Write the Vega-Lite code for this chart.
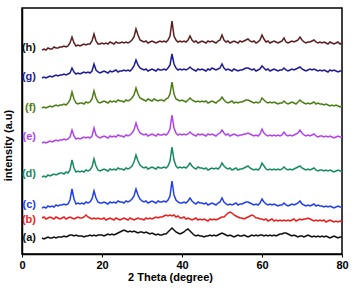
{
  "$schema": "https://vega.github.io/schema/vega-lite/v6.json",
  "width": 320,
  "height": 246,
  "autosize": "none",
  "padding": {"left": 22, "top": 8, "right": 12, "bottom": 34},
  "background": "white",
  "config": {
    "view": {"stroke": "black", "strokeWidth": 1.5},
    "font": "Liberation Sans"
  },
  "datasets": {
    "labels": [
      {"s":"a","t":"(a)","ly":16},
      {"s":"b","t":"(b)","ly":34},
      {"s":"c","t":"(c)","ly":49},
      {"s":"d","t":"(d)","ly":80},
      {"s":"e","t":"(e)","ly":117},
      {"s":"f","t":"(f)","ly":146},
      {"s":"g","t":"(g)","ly":177},
      {"s":"h","t":"(h)","ly":206}
    ],
    "xrd": [
      {"x":5,"a":16,"b":36,"c":46,"d":77,"e":111,"f":146,"g":176,"h":204},
      {"x":5.5,"a":15,"b":37,"c":47,"d":78,"e":112,"f":147,"g":177,"h":205},
      {"x":6,"a":16,"b":35,"c":46,"d":77,"e":111,"f":146,"g":176,"h":204},
      {"x":6.5,"a":17,"b":36,"c":48,"d":79,"e":112,"f":147,"g":177,"h":206},
      {"x":7,"a":16,"b":37,"c":47,"d":78,"e":113,"f":148,"g":178,"h":205},
      {"x":7.5,"a":16,"b":36,"c":48,"d":79,"e":112,"f":147,"g":177,"h":205},
      {"x":8,"a":17,"b":35,"c":47,"d":80,"e":113,"f":148,"g":178,"h":207},
      {"x":8.5,"a":16,"b":37,"c":49,"d":79,"e":114,"f":149,"g":179,"h":206},
      {"x":9,"a":17,"b":36,"c":48,"d":80,"e":113,"f":148,"g":178,"h":206},
      {"x":9.5,"a":17,"b":35,"c":49,"d":81,"e":114,"f":149,"g":179,"h":207},
      {"x":10,"a":17,"b":36,"c":49,"d":81,"e":114,"f":149,"g":179,"h":207},
      {"x":10.5,"a":18,"b":37,"c":50,"d":80,"e":115,"f":150,"g":180,"h":208},
      {"x":11,"a":17,"b":35,"c":49,"d":82,"e":114,"f":149,"g":179,"h":207},
      {"x":11.5,"a":18,"b":36,"c":50,"d":81,"e":115,"f":151,"g":180,"h":208},
      {"x":12,"a":19,"b":37,"c":54,"d":84,"e":117,"f":154,"g":181,"h":211},
      {"x":12.5,"a":19,"b":36,"c":65,"d":94,"e":124,"f":162,"g":186,"h":217},
      {"x":13,"a":18,"b":35,"c":55,"d":86,"e":118,"f":155,"g":182,"h":211},
      {"x":13.5,"a":19,"b":36,"c":50,"d":82,"e":115,"f":151,"g":180,"h":208},
      {"x":14,"a":18,"b":37,"c":51,"d":83,"e":116,"f":150,"g":181,"h":209},
      {"x":14.5,"a":18,"b":36,"c":50,"d":82,"e":115,"f":151,"g":180,"h":208},
      {"x":15,"a":18,"b":36,"c":51,"d":83,"e":116,"f":151,"g":181,"h":209},
      {"x":15.5,"a":17,"b":37,"c":50,"d":82,"e":117,"f":150,"g":182,"h":210},
      {"x":16,"a":18,"b":39,"c":52,"d":84,"e":116,"f":152,"g":181,"h":209},
      {"x":16.5,"a":18,"b":37,"c":51,"d":83,"e":117,"f":151,"g":182,"h":210},
      {"x":17,"a":19,"b":36,"c":52,"d":84,"e":116,"f":152,"g":181,"h":210},
      {"x":17.5,"a":18,"b":35,"c":55,"d":87,"e":118,"f":155,"g":183,"h":213},
      {"x":18,"a":19,"b":36,"c":63,"d":95,"e":126,"f":163,"g":190,"h":220},
      {"x":18.5,"a":18,"b":35,"c":56,"d":88,"e":119,"f":156,"g":184,"h":213},
      {"x":19,"a":19,"b":36,"c":52,"d":84,"e":117,"f":152,"g":182,"h":210},
      {"x":19.5,"a":19,"b":35,"c":51,"d":83,"e":116,"f":151,"g":181,"h":210},
      {"x":20,"a":19,"b":35,"c":51,"d":84,"e":117,"f":152,"g":182,"h":211},
      {"x":20.5,"a":18,"b":36,"c":52,"d":85,"e":118,"f":153,"g":183,"h":210},
      {"x":21,"a":19,"b":34,"c":51,"d":84,"e":117,"f":152,"g":182,"h":211},
      {"x":21.5,"a":20,"b":35,"c":50,"d":83,"e":116,"f":151,"g":181,"h":210},
      {"x":22,"a":19,"b":36,"c":52,"d":85,"e":118,"f":153,"g":183,"h":212},
      {"x":22.5,"a":20,"b":35,"c":51,"d":84,"e":117,"f":152,"g":182,"h":211},
      {"x":23,"a":19,"b":34,"c":52,"d":85,"e":118,"f":153,"g":183,"h":210},
      {"x":23.5,"a":20,"b":36,"c":51,"d":84,"e":117,"f":152,"g":184,"h":212},
      {"x":24,"a":21,"b":35,"c":53,"d":86,"e":119,"f":154,"g":182,"h":211},
      {"x":24.5,"a":22,"b":34,"c":52,"d":85,"e":118,"f":153,"g":183,"h":211},
      {"x":25,"a":23,"b":35,"c":52,"d":85,"e":118,"f":153,"g":183,"h":212},
      {"x":25.5,"a":24,"b":36,"c":51,"d":84,"e":117,"f":152,"g":184,"h":211},
      {"x":26,"a":23,"b":35,"c":53,"d":86,"e":119,"f":154,"g":183,"h":212},
      {"x":26.5,"a":22,"b":34,"c":52,"d":85,"e":118,"f":153,"g":184,"h":211},
      {"x":27,"a":23,"b":36,"c":53,"d":86,"e":119,"f":154,"g":183,"h":212},
      {"x":27.5,"a":22,"b":35,"c":55,"d":88,"e":121,"f":156,"g":185,"h":214},
      {"x":28,"a":23,"b":34,"c":58,"d":92,"e":124,"f":159,"g":188,"h":217},
      {"x":28.5,"a":22,"b":35,"c":65,"d":99,"e":131,"f":166,"g":194,"h":225},
      {"x":29,"a":21,"b":36,"c":59,"d":93,"e":125,"f":160,"g":189,"h":219},
      {"x":29.5,"a":22,"b":35,"c":55,"d":89,"e":121,"f":156,"g":186,"h":214},
      {"x":30,"a":22,"b":35,"c":53,"d":87,"e":120,"f":155,"g":185,"h":213},
      {"x":30.5,"a":21,"b":34,"c":52,"d":86,"e":119,"f":154,"g":184,"h":212},
      {"x":31,"a":22,"b":36,"c":53,"d":87,"e":120,"f":153,"g":185,"h":213},
      {"x":31.5,"a":21,"b":35,"c":51,"d":85,"e":118,"f":155,"g":183,"h":211},
      {"x":32,"a":20,"b":36,"c":52,"d":86,"e":119,"f":154,"g":184,"h":212},
      {"x":32.5,"a":21,"b":35,"c":53,"d":87,"e":120,"f":153,"g":185,"h":213},
      {"x":33,"a":20,"b":36,"c":52,"d":86,"e":119,"f":155,"g":184,"h":212},
      {"x":33.5,"a":19,"b":37,"c":51,"d":85,"e":118,"f":154,"g":183,"h":211},
      {"x":34,"a":20,"b":36,"c":53,"d":87,"e":120,"f":153,"g":185,"h":212},
      {"x":34.5,"a":19,"b":37,"c":52,"d":86,"e":119,"f":154,"g":184,"h":213},
      {"x":35,"a":19,"b":37,"c":52,"d":86,"e":119,"f":154,"g":184,"h":212},
      {"x":35.5,"a":20,"b":38,"c":53,"d":87,"e":120,"f":153,"g":185,"h":213},
      {"x":36,"a":20,"b":39,"c":52,"d":86,"e":119,"f":155,"g":184,"h":212},
      {"x":36.5,"a":22,"b":38,"c":54,"d":88,"e":121,"f":156,"g":186,"h":214},
      {"x":37,"a":24,"b":39,"c":58,"d":93,"e":125,"f":160,"g":189,"h":218},
      {"x":37.5,"a":26,"b":38,"c":73,"d":107,"e":139,"f":172,"g":200,"h":233},
      {"x":38,"a":24,"b":39,"c":59,"d":94,"e":126,"f":160,"g":190,"h":218},
      {"x":38.5,"a":22,"b":37,"c":54,"d":88,"e":121,"f":155,"g":186,"h":214},
      {"x":39,"a":21,"b":38,"c":52,"d":86,"e":119,"f":154,"g":184,"h":212},
      {"x":39.5,"a":20,"b":36,"c":51,"d":87,"e":120,"f":153,"g":185,"h":213},
      {"x":40,"a":21,"b":36,"c":51,"d":86,"e":119,"f":154,"g":184,"h":212},
      {"x":40.5,"a":22,"b":37,"c":52,"d":87,"e":120,"f":153,"g":185,"h":213},
      {"x":41,"a":24,"b":35,"c":51,"d":86,"e":119,"f":152,"g":184,"h":212},
      {"x":41.5,"a":25,"b":36,"c":53,"d":88,"e":120,"f":154,"g":185,"h":214},
      {"x":42,"a":23,"b":35,"c":56,"d":91,"e":122,"f":156,"g":187,"h":218},
      {"x":42.5,"a":21,"b":34,"c":53,"d":88,"e":120,"f":154,"g":185,"h":214},
      {"x":43,"a":19,"b":35,"c":51,"d":86,"e":119,"f":153,"g":184,"h":212},
      {"x":43.5,"a":18,"b":36,"c":50,"d":85,"e":118,"f":152,"g":183,"h":213},
      {"x":44,"a":19,"b":34,"c":52,"d":87,"e":120,"f":153,"g":185,"h":211},
      {"x":44.5,"a":18,"b":35,"c":51,"d":86,"e":119,"f":152,"g":184,"h":212},
      {"x":45,"a":18,"b":34,"c":51,"d":86,"e":120,"f":153,"g":185,"h":213},
      {"x":45.5,"a":17,"b":35,"c":50,"d":85,"e":119,"f":152,"g":184,"h":212},
      {"x":46,"a":18,"b":34,"c":51,"d":86,"e":118,"f":153,"g":183,"h":211},
      {"x":46.5,"a":18,"b":33,"c":49,"d":84,"e":120,"f":151,"g":185,"h":213},
      {"x":47,"a":19,"b":35,"c":50,"d":85,"e":119,"f":152,"g":184,"h":212},
      {"x":47.5,"a":18,"b":34,"c":51,"d":86,"e":120,"f":153,"g":186,"h":213},
      {"x":48,"a":19,"b":35,"c":50,"d":85,"e":119,"f":152,"g":185,"h":212},
      {"x":48.5,"a":18,"b":34,"c":49,"d":86,"e":118,"f":151,"g":184,"h":211},
      {"x":49,"a":19,"b":35,"c":51,"d":85,"e":120,"f":153,"g":185,"h":213},
      {"x":49.5,"a":20,"b":36,"c":52,"d":87,"e":121,"f":154,"g":186,"h":214},
      {"x":50,"a":21,"b":37,"c":56,"d":91,"e":124,"f":157,"g":190,"h":219},
      {"x":50.5,"a":20,"b":37,"c":52,"d":88,"e":121,"f":154,"g":186,"h":214},
      {"x":51,"a":19,"b":39,"c":50,"d":86,"e":119,"f":152,"g":184,"h":212},
      {"x":51.5,"a":18,"b":41,"c":49,"d":85,"e":120,"f":151,"g":185,"h":213},
      {"x":52,"a":19,"b":42,"c":50,"d":86,"e":118,"f":152,"g":184,"h":211},
      {"x":52.5,"a":18,"b":41,"c":49,"d":84,"e":119,"f":153,"g":183,"h":212},
      {"x":53,"a":17,"b":39,"c":50,"d":85,"e":120,"f":151,"g":185,"h":213},
      {"x":53.5,"a":18,"b":38,"c":51,"d":86,"e":119,"f":152,"g":184,"h":212},
      {"x":54,"a":19,"b":37,"c":49,"d":84,"e":118,"f":151,"g":183,"h":211},
      {"x":54.5,"a":18,"b":36,"c":50,"d":85,"e":119,"f":152,"g":184,"h":213},
      {"x":55,"a":18,"b":36,"c":50,"d":85,"e":119,"f":152,"g":184,"h":212},
      {"x":55.5,"a":19,"b":35,"c":51,"d":86,"e":120,"f":153,"g":185,"h":213},
      {"x":56,"a":18,"b":36,"c":52,"d":87,"e":120,"f":154,"g":186,"h":214},
      {"x":56.5,"a":17,"b":37,"c":52,"d":88,"e":121,"f":154,"g":186,"h":215},
      {"x":57,"a":18,"b":38,"c":51,"d":86,"e":120,"f":153,"g":185,"h":213},
      {"x":57.5,"a":19,"b":39,"c":50,"d":85,"e":119,"f":152,"g":184,"h":212},
      {"x":58,"a":18,"b":38,"c":49,"d":84,"e":118,"f":151,"g":185,"h":213},
      {"x":58.5,"a":19,"b":36,"c":50,"d":85,"e":119,"f":152,"g":183,"h":211},
      {"x":59,"a":18,"b":36,"c":49,"d":84,"e":118,"f":151,"g":184,"h":212},
      {"x":59.5,"a":19,"b":35,"c":51,"d":86,"e":120,"f":152,"g":185,"h":214},
      {"x":60,"a":19,"b":35,"c":55,"d":91,"e":125,"f":156,"g":188,"h":219},
      {"x":60.5,"a":18,"b":34,"c":52,"d":88,"e":121,"f":154,"g":186,"h":215},
      {"x":61,"a":19,"b":35,"c":50,"d":85,"e":119,"f":152,"g":184,"h":212},
      {"x":61.5,"a":18,"b":33,"c":49,"d":84,"e":118,"f":151,"g":185,"h":213},
      {"x":62,"a":19,"b":34,"c":50,"d":85,"e":119,"f":152,"g":183,"h":211},
      {"x":62.5,"a":18,"b":35,"c":49,"d":84,"e":118,"f":151,"g":184,"h":212},
      {"x":63,"a":19,"b":33,"c":50,"d":85,"e":119,"f":152,"g":185,"h":213},
      {"x":63.5,"a":18,"b":34,"c":49,"d":84,"e":118,"f":151,"g":184,"h":212},
      {"x":64,"a":19,"b":33,"c":48,"d":85,"e":119,"f":150,"g":183,"h":211},
      {"x":64.5,"a":20,"b":34,"c":49,"d":84,"e":118,"f":151,"g":184,"h":212},
      {"x":65,"a":20,"b":33,"c":49,"d":85,"e":119,"f":151,"g":184,"h":213},
      {"x":65.5,"a":21,"b":34,"c":51,"d":87,"e":122,"f":153,"g":186,"h":216},
      {"x":66,"a":21,"b":33,"c":49,"d":85,"e":119,"f":151,"g":184,"h":212},
      {"x":66.5,"a":20,"b":34,"c":48,"d":84,"e":118,"f":150,"g":183,"h":211},
      {"x":67,"a":19,"b":33,"c":49,"d":85,"e":119,"f":151,"g":184,"h":212},
      {"x":67.5,"a":18,"b":34,"c":50,"d":84,"e":118,"f":152,"g":185,"h":213},
      {"x":68,"a":19,"b":35,"c":49,"d":85,"e":119,"f":151,"g":184,"h":212},
      {"x":68.5,"a":18,"b":33,"c":50,"d":86,"e":120,"f":150,"g":185,"h":213},
      {"x":69,"a":17,"b":34,"c":51,"d":87,"e":121,"f":152,"g":186,"h":214},
      {"x":69.5,"a":18,"b":35,"c":53,"d":88,"e":124,"f":154,"g":187,"h":217},
      {"x":70,"a":18,"b":34,"c":50,"d":86,"e":121,"f":152,"g":185,"h":214},
      {"x":70.5,"a":17,"b":35,"c":49,"d":85,"e":119,"f":151,"g":184,"h":212},
      {"x":71,"a":18,"b":35,"c":48,"d":84,"e":118,"f":150,"g":183,"h":211},
      {"x":71.5,"a":19,"b":36,"c":49,"d":85,"e":119,"f":151,"g":184,"h":212},
      {"x":72,"a":18,"b":35,"c":48,"d":84,"e":118,"f":150,"g":185,"h":212},
      {"x":72.5,"a":17,"b":34,"c":49,"d":85,"e":119,"f":151,"g":184,"h":213},
      {"x":73,"a":18,"b":33,"c":50,"d":86,"e":120,"f":152,"g":185,"h":214},
      {"x":73.5,"a":17,"b":34,"c":48,"d":84,"e":118,"f":150,"g":184,"h":212},
      {"x":74,"a":18,"b":33,"c":49,"d":83,"e":117,"f":151,"g":183,"h":211},
      {"x":74.5,"a":17,"b":34,"c":48,"d":84,"e":118,"f":150,"g":184,"h":212},
      {"x":75,"a":18,"b":33,"c":48,"d":84,"e":118,"f":150,"g":183,"h":211},
      {"x":75.5,"a":17,"b":34,"c":47,"d":83,"e":117,"f":149,"g":184,"h":212},
      {"x":76,"a":18,"b":32,"c":48,"d":84,"e":118,"f":150,"g":183,"h":211},
      {"x":76.5,"a":17,"b":33,"c":47,"d":83,"e":117,"f":149,"g":182,"h":210},
      {"x":77,"a":16,"b":34,"c":48,"d":84,"e":118,"f":148,"g":184,"h":212},
      {"x":77.5,"a":17,"b":33,"c":47,"d":83,"e":117,"f":149,"g":183,"h":211},
      {"x":78,"a":18,"b":32,"c":46,"d":82,"e":116,"f":148,"g":184,"h":210},
      {"x":78.5,"a":17,"b":33,"c":47,"d":83,"e":117,"f":149,"g":183,"h":211},
      {"x":79,"a":16,"b":32,"c":48,"d":84,"e":118,"f":148,"g":182,"h":212},
      {"x":79.5,"a":17,"b":33,"c":47,"d":83,"e":117,"f":147,"g":183,"h":210},
      {"x":80,"a":17,"b":32,"c":47,"d":83,"e":117,"f":148,"g":183,"h":211}
    ]
  },
  "layer": [
    {
      "data": {"name": "xrd"},
      "transform": [
        {"fold": ["a", "b", "c", "d", "e", "f", "g", "h"], "as": ["s", "v"]}
      ],
      "mark": {"type": "line", "strokeWidth": 1.5, "interpolate": "linear"},
      "encoding": {
        "x": {
          "field": "x",
          "type": "quantitative",
          "scale": {"domain": [0, 80], "nice": false, "zero": false},
          "axis": {
            "title": "2 Theta (degree)",
            "values": [0, 5, 10, 15, 20, 25, 30, 35, 40, 45, 50, 55, 60, 65, 70, 75, 80],
            "labelExpr": "datum.value % 10 === 0 ? datum.label : ''",
            "grid": false,
            "domainColor": "black",
            "domainWidth": 1.5,
            "tickColor": "black",
            "tickSize": 3,
            "tickWidth": 1,
            "labelFont": "Liberation Sans",
            "labelFontWeight": "bold",
            "labelFontSize": 11,
            "labelColor": "black",
            "labelPadding": 2,
            "labelFlush": false,
            "titleFont": "Liberation Sans",
            "titleFontWeight": "bold",
            "titleFontSize": 11,
            "titleColor": "black",
            "titlePadding": 1,
            "titleX": 148,
            "titleAlign": "center"
          }
        },
        "y": {
          "field": "v",
          "type": "quantitative",
          "scale": {"domain": [0, 246], "nice": false, "zero": false},
          "axis": {
            "title": "intensity (a.u)",
            "labels": false,
            "ticks": false,
            "grid": false,
            "domainColor": "black",
            "domainWidth": 1.5,
            "titleFont": "Liberation Sans",
            "titleFontWeight": "bold",
            "titleFontSize": 11,
            "titleColor": "black",
            "titleX": -9,
            "titleY": 137,
            "titleBaseline": "bottom",
            "titleAlign": "center",
            "titleAngle": -90
          }
        },
        "color": {
          "field": "s",
          "type": "nominal",
          "legend": null,
          "scale": {
            "domain": ["a", "b", "c", "d", "e", "f", "g", "h"],
            "range": ["#111111", "#f01c1c", "#2040f0", "#178a62", "#b044f0", "#4b7d14", "#1c1c96", "#5a1e1e"]
          }
        }
      }
    },
    {
      "data": {"name": "labels"},
      "mark": {
        "type": "text",
        "align": "right",
        "baseline": "middle",
        "dx": -6,
        "font": "Liberation Sans",
        "fontWeight": "bold",
        "fontSize": 11
      },
      "encoding": {
        "x": {"datum": 5, "type": "quantitative"},
        "y": {"field": "ly", "type": "quantitative"},
        "text": {"field": "t", "type": "nominal"},
        "color": {
          "field": "s",
          "type": "nominal",
          "legend": null,
          "scale": {
            "domain": ["a", "b", "c", "d", "e", "f", "g", "h"],
            "range": ["#111111", "#f01c1c", "#2040f0", "#178a62", "#b044f0", "#4b7d14", "#1c1c96", "#111111"]
          }
        }
      }
    }
  ],
  "resolve": {"scale": {"color": "independent"}}
}
